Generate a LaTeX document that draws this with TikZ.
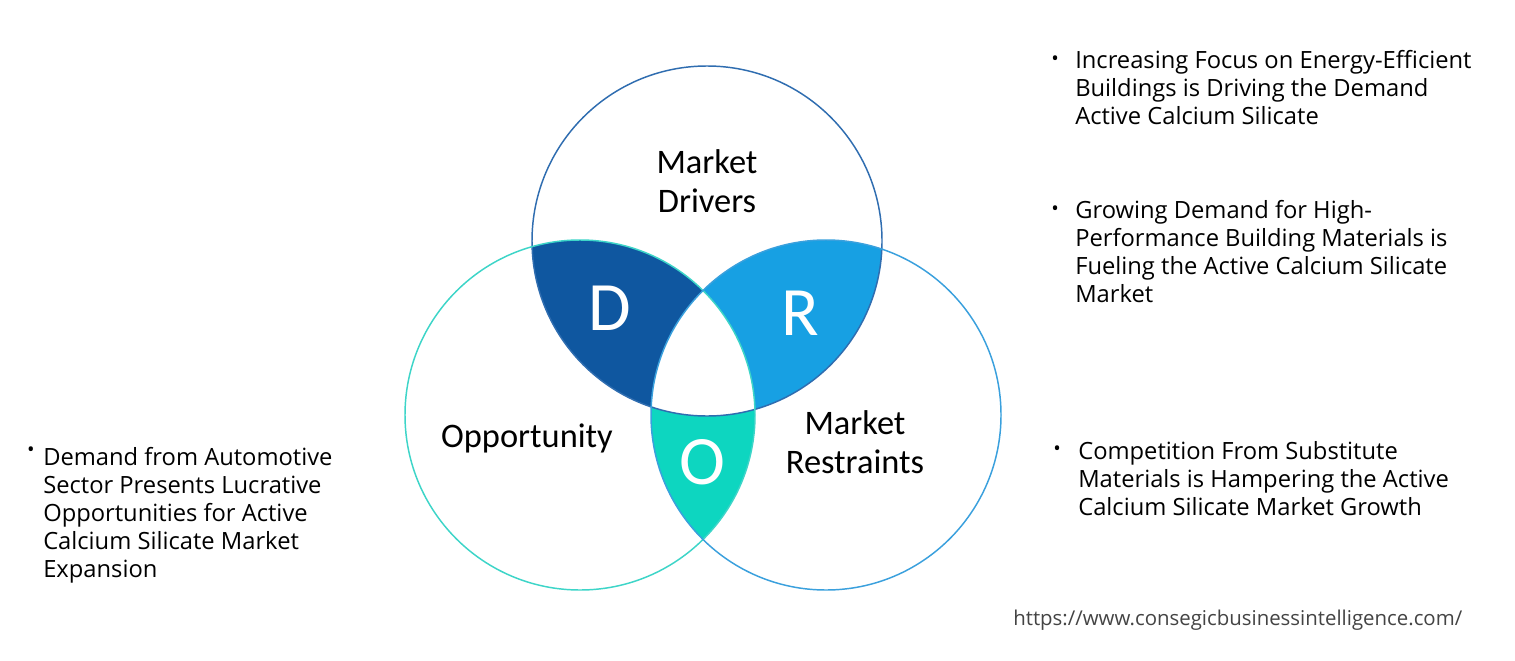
\documentclass[tikz,border=0pt]{standalone}
\usepackage{fontspec}
\setmainfont{Open Sans}
\newfontfamily\calib{Carlito}
\definecolor{cD}{HTML}{0F57A0}
\definecolor{cR}{HTML}{17A0E3}
\definecolor{cO}{HTML}{0DD6C0}
\definecolor{lT}{HTML}{2F6DB0}
\definecolor{lL}{HTML}{3DD5C8}
\definecolor{lR}{HTML}{3AA0DD}
\definecolor{urlc}{HTML}{444444}
\tikzset{
  lab/.style={font=\calib\fontsize{25.8}{29}\selectfont, align=center, text=black},
  big/.style={font=\calib\fontsize{52}{52}\selectfont, text=white},
  side/.style={font=\fontsize{17.8}{21}\selectfont, align=left, anchor=north west, inner sep=0pt, text=black},
  bul/.style={font=\fontsize{15}{21}\selectfont, inner sep=0pt, text=black},
}
\begin{document}
\begin{tikzpicture}[x=0.75pt,y=-0.75pt]
\useasboundingbox[fill=white] (0,0) rectangle (1515,660);
\def\rr{131.25pt}
\coordinate (cT) at (707,241);
\coordinate (cL) at (580,415);
\coordinate (cRt) at (826,415);
% fills
\begin{scope}
 \clip (cT) circle (\rr); \clip (cL) circle (\rr);
 \fill[cD] (cT) circle (\rr);
\end{scope}
\begin{scope}
 \clip (cT) circle (\rr); \clip (cRt) circle (\rr);
 \fill[cR] (cT) circle (\rr);
\end{scope}
\begin{scope}
 \clip (cL) circle (\rr); \clip (cRt) circle (\rr);
 \fill[cO] (cL) circle (\rr);
\end{scope}
\begin{scope}
 \clip (cL) circle (\rr); \clip (cRt) circle (\rr); \clip (cT) circle (\rr);
 \fill[white] (cL) circle (\rr);
\end{scope}
% outlines
\draw[lT, line width=1.1pt] (cT) circle (\rr);
\draw[lL, line width=1.1pt] (cL) circle (\rr);
\draw[lR, line width=1.1pt] (cRt) circle (\rr);
% labels
\node[lab] (md) at (707,181) {Market\\Drivers};
\node[lab] (op) at (527,438) {Opportunity};
\node[lab] (mr) at (855,442) {Market\\Restraints};
\node[big] (d) at (610,308) {D};
\node[big] (r) at (800,313) {R};
\node[big] (o) at (702,462) {O};
% side texts
\node[bul] (b1) at (1055,61) {•};
\node[side] (t1) at (1075,50) {Increasing Focus on Energy-Efficient\\Buildings is Driving the Demand\\Active Calcium Silicate};
\node[bul] (b2) at (1055,211) {•};
\node[side] (t2) at (1075,200) {Growing Demand for High-\\Performance Building Materials is\\Fueling the Active Calcium Silicate\\Market};
\node[bul] (b3) at (1057,451) {•};
\node[side] (t3) at (1078,441) {Competition From Substitute\\Materials is Hampering the Active\\Calcium Silicate Market Growth};
\node[bul] (b4) at (31,452) {•};
\node[side] (t4) at (43,447) {Demand from Automotive\\Sector Presents Lucrative\\Opportunities for Active\\Calcium Silicate Market\\Expansion};
\node[font=\fontsize{15.3}{16}\selectfont, text=urlc, anchor=west, inner sep=0pt] (url) at (1013,620) {https://www.consegicbusinessintelligence.com/};
\end{tikzpicture}
\end{document}
